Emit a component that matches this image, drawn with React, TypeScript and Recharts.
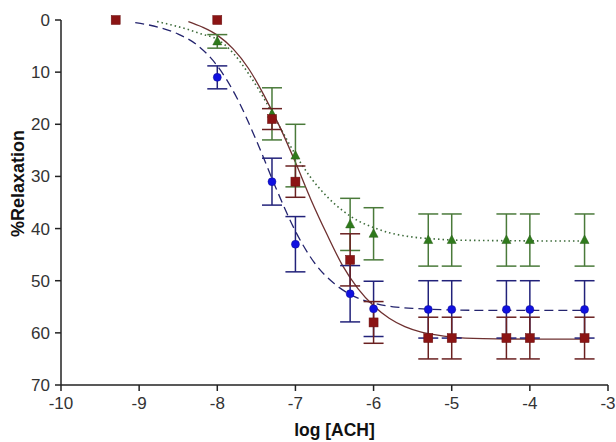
import React from 'react';
import { ComposedChart, Line, Scatter, ErrorBar, XAxis, YAxis } from 'recharts';

// measured points
const doseX = [-8, -7.3, -7, -6.3, -6, -5.3, -5, -4.3, -4, -3.3];
const redX = [-9.3, -8, -7.3, -7, -6.3, -6, -5.3, -5, -4.3, -4, -3.3];
const redY = [0, 0, 19, 31, 46, 58, 61, 61, 61, 61, 61];
const redErr = [0, 0, 2, 3, 5, 4, 4, 4, 4, 4, 4];
const blueY = [11, 31, 43, 52.5, 55.4, 55.5, 55.5, 55.5, 55.5, 55.5];
const blueErr = [2.2, 4.5, 5.3, 5.4, 5.3, 5.5, 5.5, 5.5, 5.5, 5.5];
const greenY = [4.1, 18, 26, 39.2, 41, 42.2, 42.2, 42.2, 42.2, 42.2];
const greenErr = [1.3, 5, 6, 5, 5, 5, 5, 5, 5, 5];

// fitted curves
const blueFitX = [-9.05, -8.75, -8.5, -8.25, -8, -7.75, -7.5, -7.25, -7, -6.75, -6.5, -6.25, -6, -5.75, -5.5, -5.25, -5, -4.5, -4, -3.3];
const blueFitY = [0.5, 1.4, 2.7, 4.9, 8.8, 14.9, 23.1, 32.2, 40.5, 46.7, 50.6, 53, 54.3, 55, 55.3, 55.5, 55.6, 55.7, 55.7, 55.7];
const redFitX = [-8.37, -8.2, -8, -7.8, -7.6, -7.4, -7.2, -7, -6.8, -6.6, -6.4, -6.2, -6, -5.8, -5.6, -5.4, -5.2, -5, -4.6, -4, -3.3];
const redFitY = [0.3, 1.3, 2.9, 5.5, 9.3, 14.5, 20.5, 27.3, 34.5, 41, 47, 51.5, 54.8, 57.2, 58.8, 59.8, 60.4, 60.8, 61.1, 61.2, 61.2];
const greenFitX = [-8.77, -8.6, -8.4, -8.2, -8, -7.8, -7.6, -7.4, -7.2, -7, -6.8, -6.6, -6.4, -6.2, -6, -5.8, -5.6, -5.4, -5.2, -5, -4.5, -3.3];
const greenFitY = [0.3, 0.9, 1.7, 2.7, 3.7, 6.3, 10.3, 15.1, 20.5, 25.8, 30.3, 33.8, 36.5, 38.5, 39.8, 40.8, 41.4, 41.8, 42, 42.2, 42.3, 42.4];

const xTicks = [-10, -9, -8, -7, -6, -5, -4, -3];
const yTicks = [0, 10, 20, 30, 40, 50, 60, 70];

const toPts = (xs: number[], ys: number[], errs?: number[]) =>
  xs.map((x, i) => ({ x, y: ys[i], err: errs ? errs[i] : 0 }));

const redData = toPts(redX, redY, redErr);
const blueData = toPts(doseX, blueY, blueErr);
const greenData = toPts(doseX, greenY, greenErr);
const blueFit = toPts(blueFitX, blueFitY);
const redFit = toPts(redFitX, redFitY);
const greenFit = toPts(greenFitX, greenFitY);

const font = '"Liberation Sans", Arial, sans-serif';

const Square = (p: any) => (
  <rect x={p.cx - 4.5} y={p.cy - 4.5} width={9} height={9} fill="#8b1414" stroke="#6a1010" strokeWidth={0.5} />
);
const Dot = (p: any) => <circle cx={p.cx} cy={p.cy} r={4} fill="#1010e0" stroke="#101090" strokeWidth={0.5} />;
const Tri = (p: any) => (
  <polygon
    points={`${p.cx},${p.cy - 5} ${p.cx - 4.5},${p.cy + 3.5} ${p.cx + 4.5},${p.cy + 3.5}`}
    fill="#2f7a1c"
    stroke="#2a6018"
    strokeWidth={0.5}
  />
);

export default function App() {
  return (
    <div style={{ position: 'fixed', left: 0, top: 0, background: '#fff' }}>
      <ComposedChart width={616} height={442} margin={{ top: 20, right: 8, left: 0, bottom: 0 }}>
        <XAxis
          type="number"
          dataKey="x"
          domain={[-10, -3]}
          ticks={xTicks}
          tickSize={6}
          tickMargin={6}
          height={57}
          stroke="#222"
          strokeWidth={1.5}
          tick={{ fill: '#333', fontSize: 17, fontFamily: font }}
          label={{ value: 'log [ACH]', position: 'insideBottom', offset: 6, fill: '#111', fontSize: 17.5, fontWeight: 'bold', fontFamily: font }}
          allowDuplicatedCategory={false}
        />
        <YAxis
          type="number"
          dataKey="y"
          domain={[0, 70]}
          ticks={yTicks}
          reversed
          width={61}
          tickSize={6}
          tickMargin={5}
          stroke="#222"
          strokeWidth={1.5}
          tick={{ fill: '#333', fontSize: 17, fontFamily: font }}
          label={{ value: '%Relaxation', angle: -90, position: 'insideLeft', offset: 18, dy: -19, style: { textAnchor: 'middle' }, fill: '#111', fontSize: 18, fontWeight: 'bold', fontFamily: font }}
        />
        <Line data={blueFit} dataKey="y" type="monotone" stroke="#24246e" strokeWidth={1.3} strokeDasharray="9 5" dot={false} isAnimationActive={false} />
        <Line data={greenFit} dataKey="y" type="monotone" stroke="#3d6b3a" strokeWidth={1.6} strokeDasharray="1.5 3" dot={false} isAnimationActive={false} />
        <Line data={redFit} dataKey="y" type="monotone" stroke="#6e3030" strokeWidth={1.3} dot={false} isAnimationActive={false} />
        <Scatter data={greenData} dataKey="y" shape={Tri} isAnimationActive={false}>
          <ErrorBar dataKey="err" direction="y" width={10} stroke="#4a7a3a" strokeWidth={1.5} />
        </Scatter>
        <Scatter data={blueData} dataKey="y" shape={Dot} isAnimationActive={false}>
          <ErrorBar dataKey="err" direction="y" width={10} stroke="#22227a" strokeWidth={1.5} />
        </Scatter>
        <Scatter data={redData} dataKey="y" shape={Square} isAnimationActive={false}>
          <ErrorBar dataKey="err" direction="y" width={10} stroke="#6a2020" strokeWidth={1.5} />
        </Scatter>
      </ComposedChart>
    </div>
  );
}
